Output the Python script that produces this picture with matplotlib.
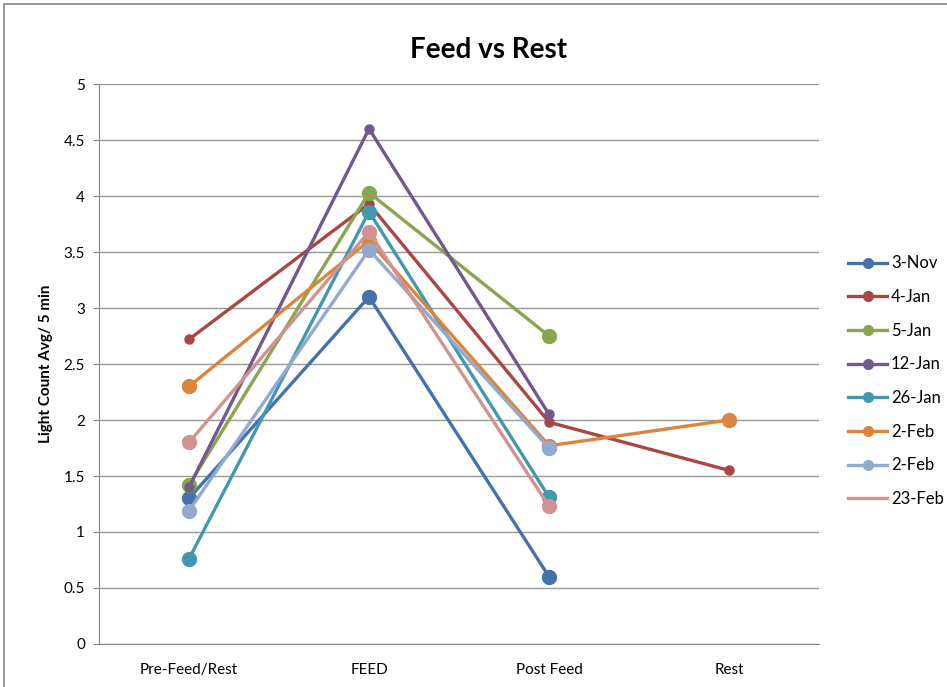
import matplotlib
matplotlib.use("Agg")
import matplotlib.pyplot as plt
from matplotlib.lines import Line2D
from matplotlib.patches import Rectangle
import numpy as np

plt.rcParams['font.family'] = ['Lato', 'DejaVu Sans']

# categories and series
categories = ['Pre-Feed/Rest', 'FEED', 'Post Feed', 'Rest']
labels = ['3-Nov', '4-Jan', '5-Jan', '12-Jan', '26-Jan', '2-Feb', '2-Feb', '23-Feb']
nov3 = [1.30, 3.10, 0.60, np.nan]
jan4 = [2.72, 3.93, 1.98, 1.55]
jan5 = [1.42, 4.03, 2.75, np.nan]
jan12 = [1.40, 4.60, 2.05, np.nan]
jan26 = [0.76, 3.86, 1.31, np.nan]
feb2a = [2.30, 3.60, 1.77, 2.00]
feb2b = [1.19, 3.52, 1.75, np.nan]
feb23 = [1.80, 3.68, 1.23, np.nan]
series = [nov3, jan4, jan5, jan12, jan26, feb2a, feb2b, feb23]

colors = ['#4672AA', '#AA4643', '#89A54E', '#71588F', '#4198AF',
          '#DB843D', '#93A9CF', '#D19392']
msizes = [10, 6.5, 10, 6.5, 10, 10, 10, 10]

fig = plt.figure(figsize=(9.47, 6.87), dpi=100)
fig.patches.append(Rectangle((0.004, -0.01), 1.2, 1.004, transform=fig.transFigure,
                             fill=False, edgecolor='#868686', lw=1.2))
ax = fig.add_axes([0.1045, 0.0626, 0.7605, 0.8151])

x = np.arange(len(categories))
handles = []
for vals, lab, c, ms in zip(series, labels, colors, msizes):
    v = np.array(vals)
    ok = ~np.isnan(v)
    ax.plot(x[ok], v[ok], color=c, lw=2.4, marker='o', ms=ms, zorder=3)
    if lab == '23-Feb':
        handles.append(Line2D([], [], color=c, lw=2.4))
    else:
        handles.append(Line2D([], [], color=c, lw=2.4, marker='o', ms=7))

ax.set_xlim(-0.5, 3.5)
ax.set_ylim(0, 5)
ax.set_yticks(np.arange(0, 5.01, 0.5))
ax.set_yticklabels(['0', '0.5', '1', '1.5', '2', '2.5', '3', '3.5', '4', '4.5', '5'])
ax.set_xticks(x)
ax.set_xticklabels(categories)
ax.tick_params(axis='x', length=0, labelsize=11, pad=14)
ax.tick_params(axis='y', length=4, color='#868686', labelsize=11, pad=6)
ax.grid(axis='y', color='#9a9a9a', lw=1)
ax.set_axisbelow(True)
for s in ['top', 'right']:
    ax.spines[s].set_visible(False)
for s in ['left', 'bottom']:
    ax.spines[s].set_color('#868686')

ax.set_ylabel('Light Count Avg/ 5 min', fontsize=11, fontweight='bold', labelpad=8)
fig.text(0.516, 0.927, 'Feed vs Rest', ha='center', va='center',
         fontsize=20, fontweight='bold')

fig.legend(handles=handles, labels=labels, loc='upper left',
           bbox_to_anchor=(0.88, 0.65), frameon=False, fontsize=12,
           handlelength=2.3, labelspacing=1.06, handletextpad=0.25)

fig.savefig('out.png', dpi=100)
